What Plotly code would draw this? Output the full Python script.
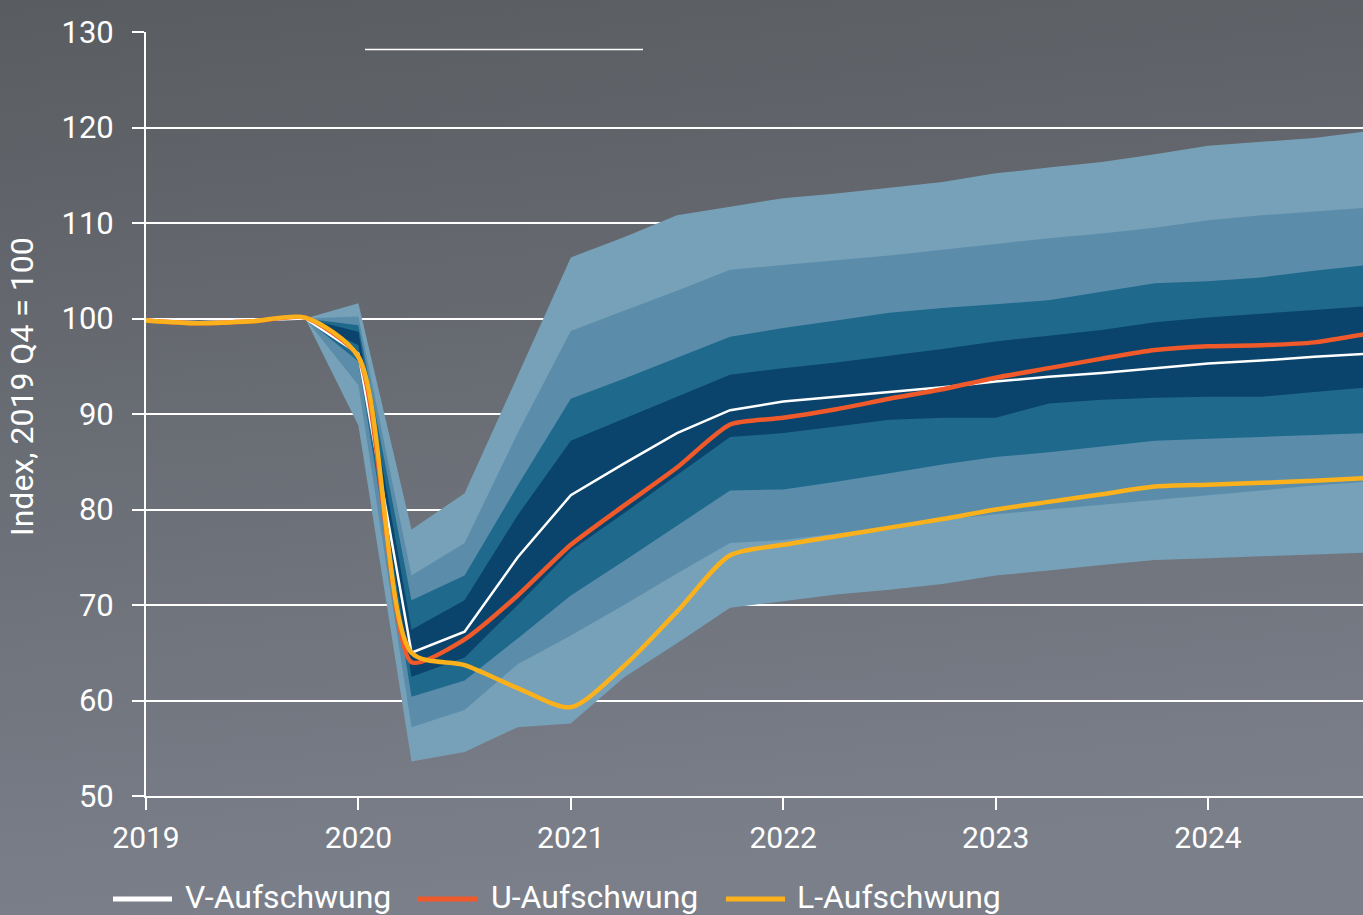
import base64
import plotly.graph_objects as go

# ---------------- data ----------------
quarters = [2019.0, 2019.25, 2019.5, 2019.75, 2020.0, 2020.25, 2020.5, 2020.75,
            2021.0, 2021.25, 2021.5, 2021.75, 2022.0, 2022.25, 2022.5, 2022.75,
            2023.0, 2023.25, 2023.5, 2023.75, 2024.0, 2024.25, 2024.5, 2024.75]

v_recovery = [99.8, 99.6, 99.8, 100.0, 96.3, 65.0, 67.2, 75.0, 81.5, 84.8, 88.0, 90.4,
              91.3, 91.8, 92.3, 92.8, 93.4, 93.9, 94.3, 94.8, 95.3, 95.6, 96.0, 96.3]
u_recovery = [99.8, 99.5, 99.7, 100.1, 96.0, 64.0, 66.4, 71.0, 76.3, 80.4, 84.4, 88.9,
              89.6, 90.5, 91.6, 92.6, 93.8, 94.8, 95.8, 96.7, 97.1, 97.2, 97.5, 98.4]
l_recovery = [99.8, 99.5, 99.7, 100.1, 96.0, 65.0, 63.7, 61.3, 59.3, 63.6, 69.3, 75.2,
              76.3, 77.2, 78.1, 79.0, 80.0, 80.8, 81.6, 82.4, 82.6, 82.8, 83.0, 83.3]

fan_quarters = quarters[3:]
upper_4 = [100.0, 101.6, 77.9, 81.7, 94.0, 106.4, 108.5, 110.8, 111.7, 112.6, 113.1, 113.7,
           114.3, 115.2, 115.8, 116.4, 117.2, 118.1, 118.5, 118.9, 119.6]
upper_3 = [100.0, 100.2, 73.1, 76.5, 88.0, 98.7, 100.8, 102.9, 105.1, 105.6, 106.1, 106.6,
           107.2, 107.8, 108.4, 108.9, 109.5, 110.3, 110.8, 111.2, 111.6]
upper_2 = [100.0, 99.3, 70.5, 73.1, 82.5, 91.6, 93.7, 95.9, 98.1, 99.0, 99.8, 100.6,
           101.1, 101.5, 101.9, 102.8, 103.7, 103.9, 104.3, 105.0, 105.6]
upper_1 = [100.0, 98.6, 67.4, 70.5, 79.4, 87.2, 89.5, 91.8, 94.1, 94.8, 95.4, 96.1,
           96.8, 97.6, 98.2, 98.8, 99.6, 100.1, 100.5, 100.9, 101.3]
lower_1 = [100.0, 97.2, 62.5, 64.5, 70.0, 75.7, 79.6, 83.6, 87.6, 88.0, 88.7, 89.4,
           89.6, 89.6, 91.1, 91.5, 91.7, 91.8, 91.8, 92.3, 92.8]
lower_2 = [100.0, 95.5, 60.4, 62.1, 66.5, 71.0, 74.6, 78.3, 82.0, 82.1, 82.9, 83.8,
           84.7, 85.5, 86.0, 86.6, 87.2, 87.4, 87.6, 87.8, 88.0]
lower_3 = [100.0, 93.0, 57.2, 59.0, 63.8, 66.8, 70.0, 73.3, 76.5, 76.8, 77.5, 78.2,
           78.9, 79.5, 80.0, 80.5, 81.0, 81.5, 82.0, 82.5, 82.9]
lower_4 = [100.0, 88.8, 53.6, 54.6, 57.2, 57.6, 62.4, 66.0, 69.7, 70.4, 71.1, 71.6,
           72.2, 73.1, 73.6, 74.2, 74.7, 74.9, 75.1, 75.3, 75.5]

year_ticks = [2019, 2020, 2021, 2022, 2023, 2024]
year_labels = ["2019", "2020", "2021", "2022", "2023", "2024"]
y_ticks = [50, 60, 70, 80, 90, 100, 110, 120, 130]

series_names = ["V-Aufschwung", "U-Aufschwung", "L-Aufschwung"]
y_title = "Index, 2019 Q4 = 100"

# ---------------- styling ----------------
W, H = 1363, 915
ML, MR, MT, MB = 146, 0, 32, 119
PW, PH = W - ML - MR, H - MT - MB
FONT = "Roboto"
band_colors = ["#77a1b8", "#5b8dab", "#1e698c", "#0a436b"]
line_colors = ["#ffffff", "#f05a2a", "#fbb11b"]


def px(xp):
    return (xp - ML) / PW


def py(yp):
    return (H - MB - yp) / PH


fig = go.Figure()

bands = [(upper_4, lower_4), (upper_3, lower_3), (upper_2, lower_2), (upper_1, lower_1)]
for (up, lo), col in zip(bands, band_colors):
    fig.add_trace(go.Scatter(
        x=fan_quarters + fan_quarters[::-1],
        y=up + lo[::-1],
        fill="toself", fillcolor=col, mode="none",
        line=dict(width=0), hoverinfo="skip", showlegend=False))

fig.add_trace(go.Scatter(x=quarters, y=v_recovery, mode="lines", name=series_names[0],
                         line=dict(color=line_colors[0], width=2.5), showlegend=False))
fig.add_trace(go.Scatter(x=quarters, y=u_recovery, mode="lines", name=series_names[1],
                         line=dict(color=line_colors[1], width=4.5, shape="spline", smoothing=0.6),
                         showlegend=False))
fig.add_trace(go.Scatter(x=quarters, y=l_recovery, mode="lines", name=series_names[2],
                         line=dict(color=line_colors[2], width=4.5, shape="spline", smoothing=0.75),
                         showlegend=False))

# background gradient
svg = ('<svg xmlns="http://www.w3.org/2000/svg" width="1363" height="915" viewBox="0 0 1363 915" '
       'preserveAspectRatio="none"><defs><linearGradient id="g" x1="0" y1="0" x2="0.15" y2="1">'
       '<stop offset="0" stop-color="#595c60"/><stop offset="1" stop-color="#7b7f8a"/>'
       '</linearGradient></defs><rect width="1363" height="915" fill="url(#g)"/></svg>')
src = "data:image/svg+xml;base64," + base64.b64encode(svg.encode()).decode()

shapes = []
annotations = []
# custom legend
legend_y = 897
legend_items = [(113, 172, 183), (417, 477, 489), (726, 785, 795)]
for (x0, x1, xt), name, col in zip(legend_items, series_names, line_colors):
    shapes.append(dict(type="line", xref="paper", yref="paper", x0=px(x0), x1=px(x1),
                       y0=py(899), y1=py(899), line=dict(color=col, width=5)))
    annotations.append(dict(text=name, xref="paper", yref="paper", x=px(xt), y=py(legend_y),
                            xanchor="left", yanchor="middle", showarrow=False,
                            font=dict(family=FONT, size=32, color="#ffffff")))
# thin line near the top
shapes.append(dict(type="line", xref="paper", yref="paper", x0=px(365), x1=px(643),
                   y0=py(49.5), y1=py(49.5), line=dict(color="#ffffff", width=1.3)))
# y title
annotations.append(dict(text=y_title, xref="paper", yref="paper", x=px(22), y=py(387),
                        xanchor="center", yanchor="middle", textangle=-90, showarrow=False,
                        font=dict(family=FONT, size=32, color="#ffffff")))

fig.update_layout(
    width=W, height=H,
    margin=dict(l=ML, r=MR, t=MT, b=MB, pad=0),
    paper_bgcolor="#6a6d74", plot_bgcolor="rgba(0,0,0,0)",
    font=dict(family=FONT, size=30, color="#ffffff"),
    images=[dict(source=src, xref="paper", yref="paper", x=px(0), y=py(0),
                 sizex=W / PW, sizey=H / PH, xanchor="left", yanchor="top",
                 sizing="stretch", layer="below")],
    shapes=shapes, annotations=annotations, showlegend=False,
    xaxis=dict(range=[2019, 2019 + PW / 212.4], tickvals=year_ticks, ticktext=year_labels,
               showgrid=False, zeroline=False, showline=True, linecolor="#ffffff", linewidth=2,
               ticks="outside", ticklen=12, tickwidth=2, tickcolor="#ffffff",
               ticklabelstandoff=2, tickfont=dict(family=FONT, size=30, color="#ffffff")),
    yaxis=dict(range=[50, 130], tickvals=y_ticks, showgrid=True, gridcolor="#ffffff", gridwidth=2,
               zeroline=False, showline=True, linecolor="#ffffff", linewidth=2,
               ticks="outside", ticklen=12, tickwidth=2, tickcolor="#ffffff",
               ticklabelstandoff=12, tickfont=dict(family=FONT, size=31, color="#ffffff")),
)

fig.write_html("out.html", config={"displayModeBar": False},
               post_script="document.body.style.margin='0';document.body.style.overflow='hidden';")
